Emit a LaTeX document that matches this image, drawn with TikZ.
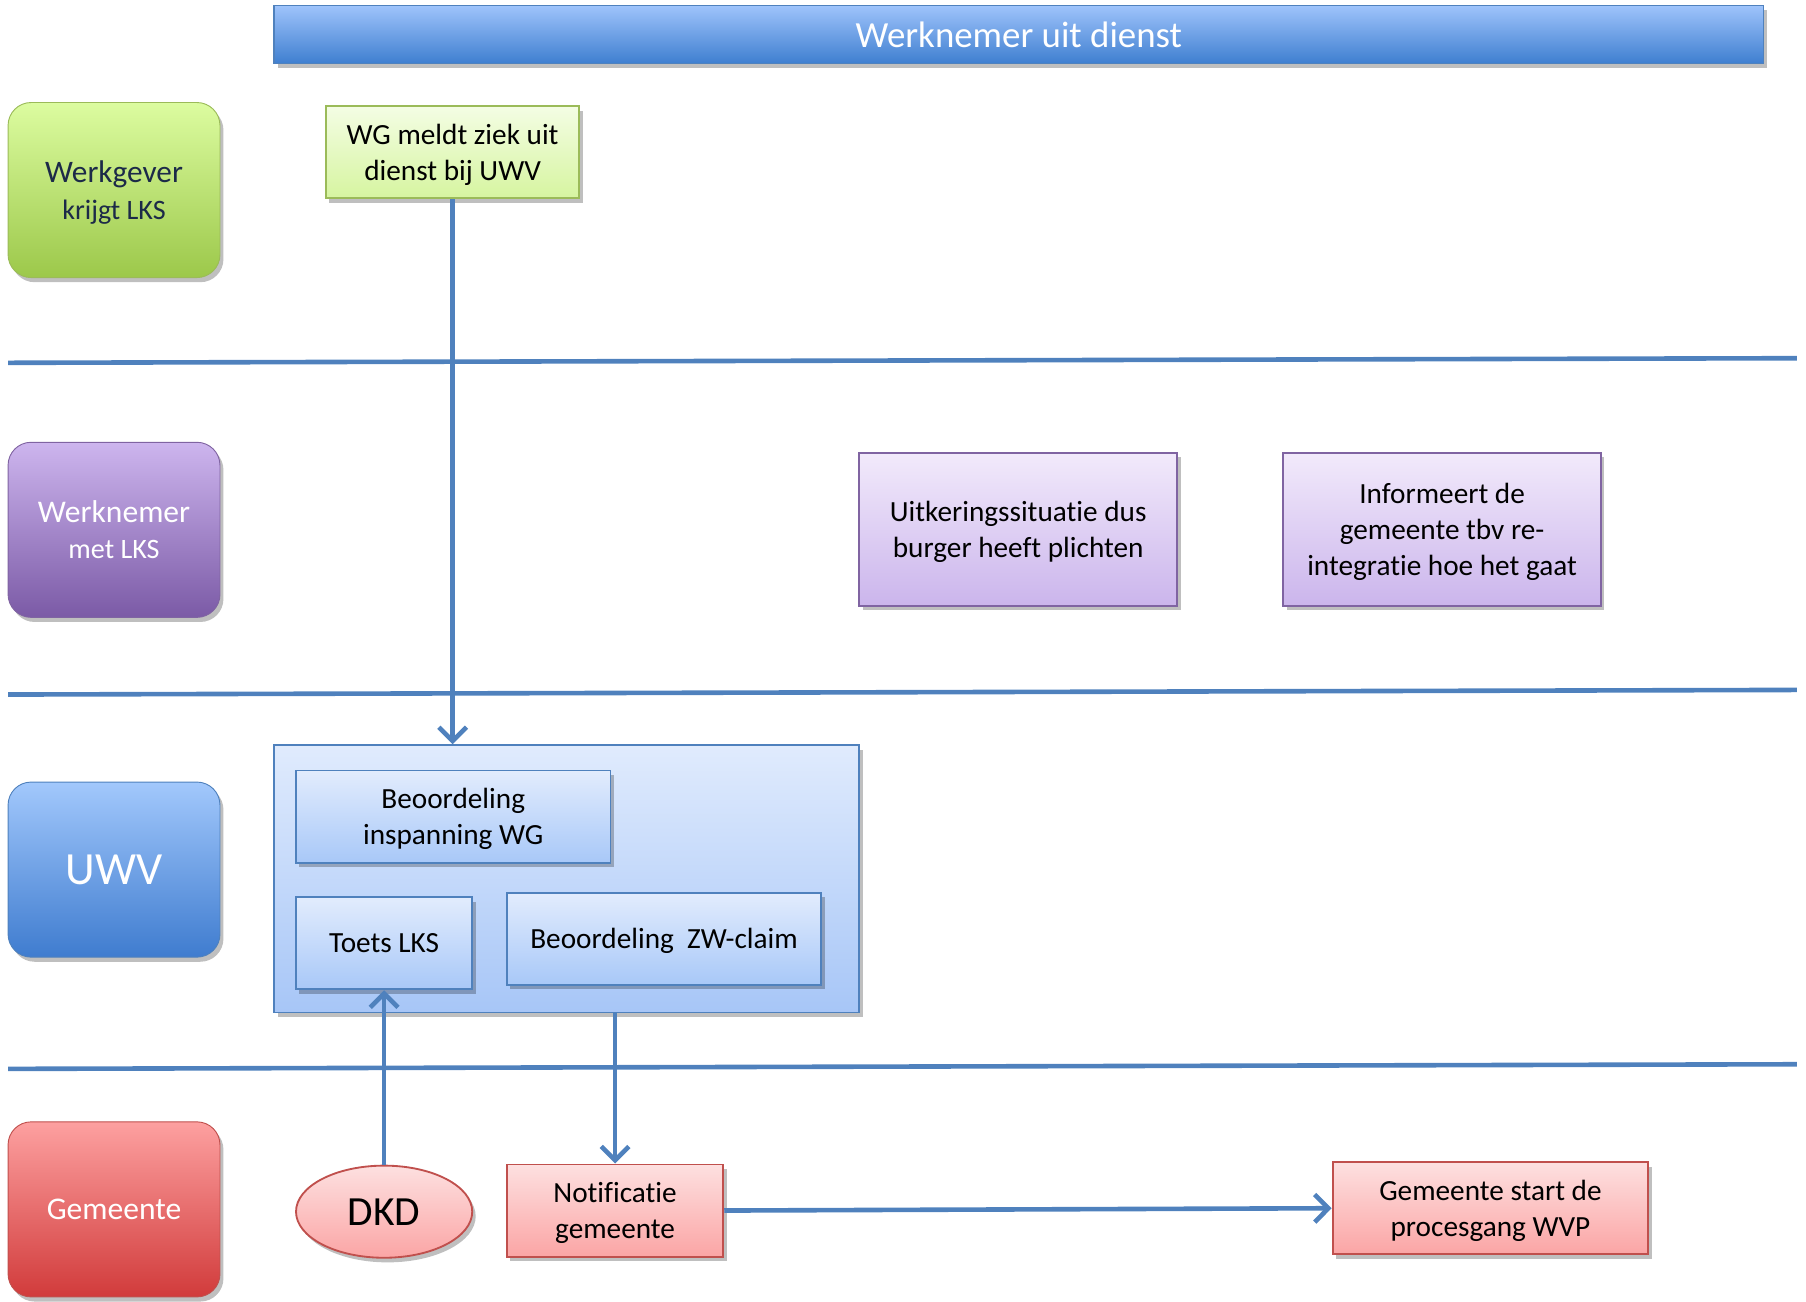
\documentclass[tikz,border=0pt]{standalone}
\usepackage{fontspec}
\setmainfont{Carlito}[Ligatures=NoCommon]
\usetikzlibrary{arrows.meta,shapes.geometric,shadows}

\definecolor{lijn}{RGB}{79,129,189}
\definecolor{navy}{RGB}{28,42,72}

\begin{document}
\begin{tikzpicture}[x=0.5pt,y=-0.5pt,
    schaduw/.style={drop shadow={shadow xshift=1.5pt,shadow yshift=-2pt,opacity=0.25,fill=black}},
    baan/.style={rounded corners=10pt,minimum width=92pt,minimum height=76pt,align=center,inner sep=0pt,text depth=0pt,schaduw},
    stap/.style={draw,line width=0.8pt,minimum height=40pt,align=center,inner sep=0pt,text depth=0pt,schaduw,
                 font=\fontsize{12.7}{15.5}\selectfont},
    groen/.style={stap,draw={rgb,255:red,155;green,187;blue,89},top color={rgb,255:red,244;green,253;blue,228},bottom color={rgb,255:red,214;green,245;blue,160}},
    paars/.style={stap,draw={rgb,255:red,128;green,100;blue,162},top color={rgb,255:red,242;green,234;blue,251},bottom color={rgb,255:red,203;green,181;blue,236}},
    blauw/.style={stap,draw=lijn,top color={rgb,255:red,226;green,236;blue,253},bottom color={rgb,255:red,168;green,200;blue,248}},
    rood/.style={stap,draw={rgb,255:red,192;green,80;blue,77},top color={rgb,255:red,253;green,224;blue,224},bottom color={rgb,255:red,251;green,165;blue,165}},
    scheiding/.style={draw=lijn,line width=2pt},
    pijl/.style={draw=lijn,line width=2pt,-{Straight Barb[length=6pt,width=12pt,line width=2pt]}}]

  \useasboundingbox (0,0) rectangle (1568,1130);

  % titelbalk
  \node[minimum width=646.5pt,minimum height=25pt,inner sep=0pt,draw=lijn,line width=0.6pt,
        top color={rgb,255:red,158;green,195;blue,251},bottom color={rgb,255:red,63;green,127;blue,208},
        schaduw,text=white,font=\fontsize{16}{19}\selectfont] (titel) at (884.5,30) {Werknemer uit dienst};

  % banen
  \node[baan,draw={rgb,255:red,155;green,187;blue,89},top color={rgb,255:red,220;green,252;blue,160},
        bottom color={rgb,255:red,156;green,200;blue,74},text=navy,font=\fontsize{13.6}{16}\selectfont] (werkgever) at (99,165)
        {Werkgever\\{\fontsize{12.2}{16}\selectfont krijgt LKS}};
  \node[baan,draw={rgb,255:red,128;green,100;blue,162},top color={rgb,255:red,205;green,181;blue,238},
        bottom color={rgb,255:red,123;green,90;blue,166},text=white,font=\fontsize{13.7}{15.5}\selectfont] (werknemer) at (99,460)
        {Werknemer\\{\fontsize{12.2}{15.5}\selectfont met LKS}};
  \node[baan,draw=lijn,top color={rgb,255:red,162;green,200;blue,252},
        bottom color={rgb,255:red,63;green,124;blue,207},text=white,font=\fontsize{20}{24}\selectfont] (uwv) at (99,755) {UWV};
  \node[baan,draw={rgb,255:red,192;green,80;blue,77},top color={rgb,255:red,253;green,160;blue,160},
        bottom color={rgb,255:red,209;green,59;blue,59},text=white,font=\fontsize{13.7}{17}\selectfont] (gemeente) at (99,1050) {Gemeente};

  % scheidingslijnen
  \draw[scheiding] (7,315) -- (1560,311);
  \draw[scheiding] (7,603) -- (1560,599);
  \draw[scheiding] (7,928) -- (1560,924);

  % werkgever
  \node[groen,minimum width=110pt] (wg) at (393,132) {WG meldt ziek uit\\dienst bij UWV};

  % werknemer
  \node[paars,minimum width=138pt,minimum height=66.5pt] (uitkering) at (884,459.5) {Uitkeringssituatie dus\\burger heeft plichten};
  \node[paars,minimum width=138pt,minimum height=66.5pt] (informeert) at (1252,459.5) {Informeert de\\gemeente tbv re-\\integratie hoe het gaat};

  % uwv
  \node[draw=lijn,line width=0.8pt,minimum width=254pt,minimum height=116pt,schaduw,
        top color={rgb,255:red,224;green,235;blue,253},bottom color={rgb,255:red,167;green,198;blue,247}] (uwvblok) at (492,763) {};
  \node[blauw,minimum width=136.5pt] (inspanning) at (393.5,709) {Beoordeling\\inspanning WG};
  \node[blauw,minimum width=76.5pt] (toets) at (333.5,819) {Toets LKS};
  \node[blauw,minimum width=136.5pt] (zwclaim) at (576.5,815) {Beoordeling\ \ ZW-claim};

  % gemeente
  \node[rood,ellipse,minimum width=76.5pt,font=\fontsize{18}{21}\selectfont] (dkd) at (333.5,1052) {DKD};
  \node[rood,minimum width=94pt] (notificatie) at (534,1051) {Notificatie\\gemeente};
  \node[rood,minimum width=137pt] (wvp) at (1294,1049) {Gemeente start de\\procesgang WVP};

  % pijlen
  \draw[pijl] (wg.south) -- (wg.south |- uwvblok.north);
  \draw[pijl] (dkd.north) -- (toets.south);
  \draw[pijl] (uwvblok.south -| notificatie.north) -- (notificatie.north);
  \draw[pijl] (notificatie.east) -- (wvp.west);
\end{tikzpicture}
\end{document}
